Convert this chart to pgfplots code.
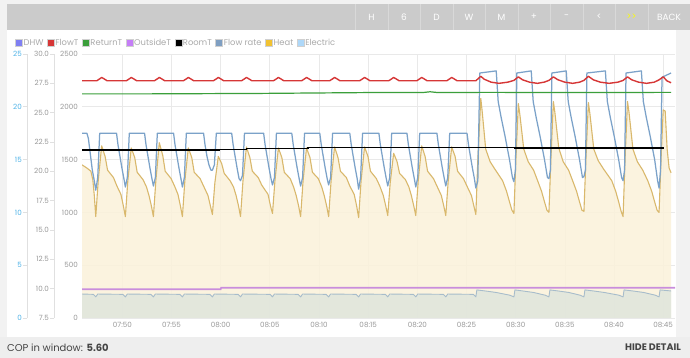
\documentclass[border=0pt]{standalone}
\usepackage{pgfplots}
\pgfplotsset{compat=1.18}
\usepackage{pgfplotstable}
\usepackage{fontspec}
\setmainfont{Poppins}
\newfontfamily\btnfont{Poppins}

\definecolor{pagebg}{HTML}{F2F2F2}
\definecolor{barbg}{HTML}{CBCBCB}
\definecolor{sepc}{HTML}{D9D9D9}
\definecolor{botbg}{HTML}{EEEEEE}
\definecolor{gridc}{HTML}{E9E9E9}
\definecolor{ticklab}{HTML}{999999}
\definecolor{bluelab}{HTML}{4FB3E8}
\definecolor{axline}{HTML}{E0E0E0}
\definecolor{heatline}{HTML}{D9B86C}
\definecolor{heatfill}{HTML}{FBF2DA}
\definecolor{elecfill}{HTML}{E1E6DC}
\definecolor{elecline}{HTML}{A7BCCB}
\definecolor{flowline}{HTML}{7BA2C9}
\definecolor{flowTc}{HTML}{D63636}
\definecolor{returnTc}{HTML}{3B9F3B}
\definecolor{outsideTc}{HTML}{C98DDC}
\definecolor{legtext}{HTML}{AAAAAA}
\definecolor{dhwc}{HTML}{7F7FF2}
\definecolor{outlegc}{HTML}{C57EF7}
\definecolor{flowlegc}{HTML}{7F9FC2}
\definecolor{heatlegc}{HTML}{F1C232}
\definecolor{eleclegc}{HTML}{AED8F9}
\definecolor{legborder}{HTML}{D0D0D0}
\definecolor{cop}{HTML}{444444}
\definecolor{btnyellow}{HTML}{FFFF00}

% Heat (W) -- minutes after 07:00
\pgfplotstableread{
x y
45.9 1450
46.4 1420
46.8 1390
47.0 1310
47.15 1160
47.3 960
47.55 1300
47.9 1630
48.25 1530
48.5 1400
49.1 1330
49.45 1250
49.86 1170
50.11 1060
50.31 960
50.56 1300
50.91 1610
51.26 1520
51.51 1380
52.11 1310
52.46 1240
52.71 1160
52.96 1060
53.16 960
53.41 1300
53.76 1660
54.11 1540
54.36 1390
54.96 1320
55.31 1250
55.66 1170
55.91 1060
56.11 960
56.36 1300
56.71 1610
57.06 1520
57.31 1380
57.91 1320
58.26 1250
58.71 1160
58.96 1060
59.16 980
59.41 1280
59.76 1530
60.11 1460
60.36 1370
60.96 1300
61.31 1240
61.57 1160
61.82 1060
62.02 960
62.27 1300
62.62 1620
62.97 1520
63.22 1390
63.82 1330
64.17 1260
64.82 1170
65.07 1060
65.27 990
65.52 1300
65.87 1610
66.22 1520
66.47 1380
67.07 1320
67.42 1240
67.68 1160
67.93 1060
68.13 960
68.38 1300
68.73 1610
69.08 1520
69.33 1380
69.93 1320
70.28 1240
70.53 1160
70.78 1060
70.98 960
71.23 1300
71.58 1620
71.93 1520
72.18 1390
72.78 1330
73.13 1250
73.58 1170
73.83 1060
74.03 950
74.28 1300
74.63 1620
74.98 1530
75.23 1390
75.83 1320
76.18 1250
76.54 1160
76.79 1060
76.99 970
77.24 1280
77.59 1560
77.94 1480
78.19 1370
78.79 1310
79.14 1240
79.39 1160
79.64 1060
79.84 970
80.09 1300
80.44 1630
80.79 1530
81.04 1390
81.64 1320
81.99 1250
82.44 1160
82.69 1060
82.89 970
83.14 1300
83.49 1620
83.84 1530
84.09 1390
84.69 1320
85.04 1250
85.5 1160
85.75 1060
85.95 980
86.15 1500
86.45 2080
86.6 1950
86.95 1600
87.4 1480
87.95 1400
88.67 1300
89.07 1200
89.37 1100
89.62 1020
89.82 990
90.02 1500
90.27 2030
90.42 1930
90.82 1600
91.27 1480
91.82 1400
92.23 1300
92.63 1200
92.93 1100
93.18 1020
93.38 1000
93.58 1500
93.83 2050
93.98 1950
94.38 1610
94.83 1480
95.38 1400
95.79 1300
96.19 1200
96.49 1100
96.74 1020
96.94 1010
97.14 1500
97.39 2040
97.54 1940
97.94 1600
98.39 1490
98.94 1410
99.77 1300
100.17 1200
100.47 1100
100.72 1010
100.92 960
101.12 1500
101.37 2050
101.52 1950
101.92 1600
102.37 1480
102.92 1400
103.43 1300
103.83 1200
104.13 1100
104.38 1020
104.58 1000
104.78 1500
105.0 1970
105.2 1960
105.4 1600
105.6 1420
105.8 1375
}\heattab

% Electric (W)
\pgfplotstableread{
x y
45.9 227
47.05 224
47.3 200
47.5 227
50.06 224
50.31 200
50.51 227
52.91 224
53.16 200
53.36 227
55.86 224
56.11 200
56.31 227
58.91 224
59.16 200
59.36 227
61.77 224
62.02 200
62.22 227
65.02 224
65.27 200
65.47 227
67.88 224
68.13 200
68.33 227
70.73 224
70.98 200
71.18 227
73.78 224
74.03 200
74.23 227
76.74 224
76.99 200
77.19 227
79.59 224
79.84 200
80.04 227
82.64 224
82.89 200
83.09 227
85.7 224
85.95 200
86.05 266
87.0 255
88.0 242
89.4 216
89.82 200
89.92 266
90.8 255
91.8 242
93.0 216
93.38 200
93.48 266
94.4 255
95.4 242
96.55 216
96.94 200
97.04 266
98.0 255
99.0 242
100.5 216
100.92 200
101.02 266
102.0 255
103.0 242
104.2 216
104.58 200
104.68 266
105.8 256
}\electab

% Flow rate (left blue axis)
\pgfplotstableread{
x y
45.9 17.5
46.4 17.5
46.55 17.0
46.75 15.5
46.95 14.0
47.15 13.0
47.3 12.1
47.5 13.3
47.7 17.5
49.41 17.5
49.56 16.4
49.76 15.3
49.96 14.2
50.16 13.2
50.31 12.4
50.51 13.3
50.71 17.5
52.26 17.5
52.41 16.4
52.61 15.3
52.81 14.2
53.01 13.2
53.16 12.5
53.36 13.3
53.56 17.5
55.21 17.5
55.36 16.4
55.56 15.3
55.76 14.2
55.96 13.2
56.11 12.4
56.31 13.3
56.51 17.5
58.26 17.5
58.41 16.4
58.61 15.3
58.81 14.5
59.01 14.0
59.16 14.0
59.36 14.5
59.56 17.5
61.12 17.5
61.27 16.4
61.47 15.3
61.67 14.2
61.87 13.2
62.02 13.0
62.22 13.5
62.42 17.5
64.37 17.5
64.52 16.4
64.72 15.3
64.92 14.2
65.12 13.2
65.27 12.6
65.47 13.3
65.67 17.5
67.23 17.5
67.38 16.4
67.58 15.3
67.78 14.2
67.98 13.2
68.13 12.5
68.33 13.3
68.53 17.5
70.08 17.5
70.23 16.4
70.43 15.3
70.63 14.2
70.83 13.2
70.98 12.6
71.18 13.3
71.38 17.5
73.13 17.5
73.28 16.4
73.48 15.3
73.68 14.2
73.88 13.2
74.03 12.2
74.23 13.3
74.43 17.5
76.09 17.5
76.24 16.4
76.44 15.3
76.64 14.2
76.84 13.2
76.99 12.5
77.19 13.3
77.39 17.5
78.94 17.5
79.09 16.4
79.29 15.3
79.49 14.2
79.69 13.2
79.84 12.4
80.04 13.3
80.24 17.5
81.99 17.5
82.14 16.4
82.34 15.3
82.54 14.2
82.74 13.2
82.89 12.5
83.09 13.3
83.29 17.5
85.05 17.5
85.2 16.4
85.4 15.3
85.6 14.2
85.8 13.2
85.95 12.3
86.15 13.0
86.35 23.2
88.02 23.4
88.22 20.5
88.52 19.0
88.92 17.2
89.37 15.0
89.67 13.3
89.82 12.9
89.97 14.0
90.12 23.2
91.58 23.4
91.78 20.5
92.08 19.0
92.48 17.2
92.93 15.0
93.23 13.3
93.38 13.2
93.53 14.0
93.68 23.2
95.14 23.4
95.34 20.5
95.64 19.0
96.04 17.2
96.49 15.0
96.79 13.3
96.94 13.4
97.09 14.0
97.24 23.2
99.12 23.4
99.32 20.5
99.62 19.0
100.02 17.2
100.47 15.0
100.77 13.3
100.92 13.0
101.07 14.0
101.22 23.2
102.78 23.4
102.98 20.5
103.28 19.0
103.68 17.2
104.13 15.0
104.43 13.0
104.58 12.3
104.73 14.0
104.88 22.8
105.8 23.2
}\flowtab

% FlowT (deg C)
\pgfplotstableread{
x y
45.9 27.72
47.4 27.72
47.7 27.88
47.9 28.0
48.15 27.88
48.45 27.72
50.41 27.72
50.71 27.88
50.91 28.0
51.16 27.88
51.46 27.72
53.26 27.72
53.56 27.88
53.76 28.0
54.01 27.88
54.31 27.72
56.21 27.72
56.51 27.88
56.71 28.0
56.96 27.88
57.26 27.72
59.26 27.72
59.56 27.88
59.76 28.0
60.01 27.88
60.31 27.72
62.12 27.72
62.42 27.88
62.62 28.0
62.87 27.88
63.17 27.72
65.37 27.72
65.67 27.88
65.87 28.0
66.12 27.88
66.42 27.72
68.23 27.72
68.53 27.88
68.73 28.0
68.98 27.88
69.28 27.72
71.08 27.72
71.38 27.88
71.58 28.0
71.83 27.88
72.13 27.72
74.13 27.72
74.43 27.88
74.63 28.0
74.88 27.88
75.18 27.72
77.09 27.72
77.39 27.88
77.59 28.0
77.84 27.88
78.14 27.72
79.94 27.72
80.24 27.88
80.44 28.0
80.69 27.88
80.99 27.72
82.99 27.72
83.29 27.88
83.49 28.0
83.74 27.88
84.04 27.72
85.95 27.72
86.45 28.1
86.8 27.85
87.5 27.6
88.3 27.5
89.2 27.6
89.82 27.75
90.27 28.05
90.7 27.8
91.4 27.6
92.2 27.5
92.9 27.6
93.38 27.75
93.83 28.05
94.3 27.8
95.0 27.6
95.8 27.5
96.5 27.6
96.94 27.75
97.39 28.1
97.9 27.8
98.6 27.6
99.5 27.5
100.4 27.6
100.92 27.75
101.37 28.05
101.8 27.8
102.5 27.6
103.3 27.5
104.1 27.6
104.58 27.8
105.0 28.05
105.4 27.7
105.8 27.55
}\flowTtab

% ReturnT (deg C)
\pgfplotstableread{
x y
45.9 26.6
52 26.6
58 26.62
64 26.64
70 26.68
76 26.72
80.6 26.72
81.3 26.78
82.0 26.72
88 26.73
94 26.71
100 26.72
105.8 26.73
}\returnTtab

% OutsideT (deg C)
\pgfplotstableread{
x y
45.9 9.95
60.0 9.95
60.05 10.08
106.2 10.08
}\outsideTtab

% RoomT (deg C)
\pgfplotstableread{
x y
45.9 21.82
59.9 21.82
59.9 21.87
62.6 21.87
62.6 21.96
68.9 21.96
68.9 22.05
89.9 22.05
89.9 21.98
105.1 21.98
}\roomTtab

\pgfplotsset{
  commonbox/.style={
    at={(82bp,40bp)}, anchor=south west,
    width=593bp, height=264bp, scale only axis,
    xmin=45.9, xmax=106.2,
    /pgf/number format/assume math mode=true,
    /pgf/number format/1000 sep={},
  },
}

\begin{document}
\begin{tikzpicture}
\useasboundingbox (0,0) rectangle (690bp,358bp);
\fill[pagebg] (0,0) rectangle (690bp,358bp);
\fill[white] (7bp,21bp) rectangle (676bp,328bp);
% top button bar
\fill[barbg] (7bp,328bp) rectangle (690bp,354bp);
\foreach \x in {355,388,420,453,485,518,550,583,615,648}
  \draw[sepc, line width=1bp] (\x bp,328bp) -- (\x bp,354bp);
\begin{scope}[every node/.style={font=\btnfont\fontsize{9}{10}\selectfont, text=white, anchor=center, inner sep=0pt}]
\node at (371.5bp,341bp) {H};
\node at (404bp,341bp) {6};
\node at (436.5bp,341bp) {D};
\node at (469bp,341bp) {W};
\node at (501.5bp,341bp) {M};
\node at (534bp,341bp) {+};
\node at (566.5bp,341bp) {-};
\node at (599bp,341bp) {<};
\node[text=btnyellow] at (631.5bp,341bp) {>>};
\node at (669bp,341bp) {BACK};
\end{scope}
% bottom bar
\fill[botbg] (0,0) rectangle (690bp,21bp);
\node[anchor=west, inner sep=0pt, font=\fontsize{10}{11}\selectfont, text=cop] at (7bp,10.5bp) {COP in window: \textbf{5.60}};
\node[anchor=east, inner sep=0pt, font=\fontsize{9.5}{11}\selectfont\bfseries, text=cop] at (681bp,10.5bp) {HIDE DETAIL};

% ---- main axis: Heat / Electric (W)
\begin{axis}[commonbox,
  ymin=0, ymax=2500,
  axis line style={draw=none},
  tick style={draw=none},
  xtick={50,55,60,65,70,75,80,85,90,95,100,105},
  xticklabels={07:50,07:55,08:00,08:05,08:10,08:15,08:20,08:25,08:30,08:35,08:40,08:45},
  ytick={0,500,1000,1500,2000,2500},
  grid=major,
  major grid style={draw=gridc, line width=0.7bp},
  tick label style={font=\fontsize{7.2}{8}\selectfont, text=ticklab},
  yticklabel style={anchor=east, inner sep=0pt, xshift=-4bp},
  xticklabel style={anchor=north, inner sep=0pt, yshift=-4bp},
  legend columns=8,
  legend cell align=left,
  legend style={at={(-0.113,1.0417)}, anchor=west, draw=none, fill=none,
    font=\fontsize{8.4}{9}\selectfont, text=legtext, inner sep=0pt,
    nodes={inner sep=0.8bp},
    /tikz/every even column/.append style={column sep=2.8bp}},
]
\addplot[draw=none, fill=heatfill, fill opacity=0.85, forget plot] table {\heattab} \closedcycle;
\addplot[draw=none, fill=elecfill, fill opacity=0.92, forget plot] table {\electab} \closedcycle;
\addplot[elecline, line width=0.9bp, line join=round, forget plot] table {\electab};
\addplot[heatline, line width=1.1bp, line join=round, forget plot] table {\heattab};
\addlegendimage{legend image code/.code={\draw[draw=legborder, fill=dhwc, line width=0.6bp] (0bp,-3.5bp) rectangle (7bp,3.5bp);}}
\addlegendentry{DHW\hspace{6bp}}
\addlegendimage{legend image code/.code={\draw[draw=legborder, fill=flowTc, line width=0.6bp] (0bp,-3.5bp) rectangle (7bp,3.5bp);}}
\addlegendentry{FlowT}
\addlegendimage{legend image code/.code={\draw[draw=legborder, fill=returnTc, line width=0.6bp] (0bp,-3.5bp) rectangle (7bp,3.5bp);}}
\addlegendentry{ReturnT}
\addlegendimage{legend image code/.code={\draw[draw=legborder, fill=outlegc, line width=0.6bp] (0bp,-3.5bp) rectangle (7bp,3.5bp);}}
\addlegendentry{OutsideT}
\addlegendimage{legend image code/.code={\draw[draw=legborder, fill=black, line width=0.6bp] (0bp,-3.5bp) rectangle (7bp,3.5bp);}}
\addlegendentry{RoomT}
\addlegendimage{legend image code/.code={\draw[draw=legborder, fill=flowlegc, line width=0.6bp] (0bp,-3.5bp) rectangle (7bp,3.5bp);}}
\addlegendentry{Flow rate}
\addlegendimage{legend image code/.code={\draw[draw=legborder, fill=heatlegc, line width=0.6bp] (0bp,-3.5bp) rectangle (7bp,3.5bp);}}
\addlegendentry{Heat}
\addlegendimage{legend image code/.code={\draw[draw=legborder, fill=eleclegc, line width=0.6bp] (0bp,-3.5bp) rectangle (7bp,3.5bp);}}
\addlegendentry{Electric}
\end{axis}

% ---- flow rate axis (blue, far left)
\begin{axis}[commonbox,
  ymin=0, ymax=25,
  axis x line=none,
  axis y line*=left,
  axis y line shift=55bp,
  ytick={0,5,10,15,20,25}, ytick pos=left,
  axis line style={draw=axline, line width=0.7bp},
  tick style={draw=axline, line width=0.7bp},
  tick align=outside, major tick length=4bp,
  yticklabel style={font=\fontsize{7.2}{8}\selectfont, text=bluelab, anchor=east, inner sep=1bp},
]
\addplot[flowline, line width=1.25bp, line join=round] table {\flowtab};
\end{axis}

% ---- temperature axis
\begin{axis}[commonbox,
  ymin=7.5, ymax=30,
  axis x line=none,
  axis y line*=left,
  axis y line shift=28bp,
  ytick={7.5,10,12.5,15,17.5,20,22.5,25,27.5,30}, ytick pos=left,
  axis line style={draw=axline, line width=0.7bp},
  tick style={draw=axline, line width=0.7bp},
  tick align=outside, major tick length=4bp,
  yticklabel style={font=\fontsize{7.2}{8}\selectfont, text=ticklab, anchor=east, inner sep=1bp,
    /pgf/number format/fixed, /pgf/number format/fixed zerofill, /pgf/number format/precision=1},
]
\addplot[outsideTc, line width=1.6bp] table {\outsideTtab};
\addplot[black, line width=1.4bp, line join=miter] table {\roomTtab};
\addplot[returnTc, line width=1.2bp, line join=round] table {\returnTtab};
\addplot[flowTc, line width=1.4bp, line join=round] table {\flowTtab};
\end{axis}
\end{tikzpicture}
\end{document}
